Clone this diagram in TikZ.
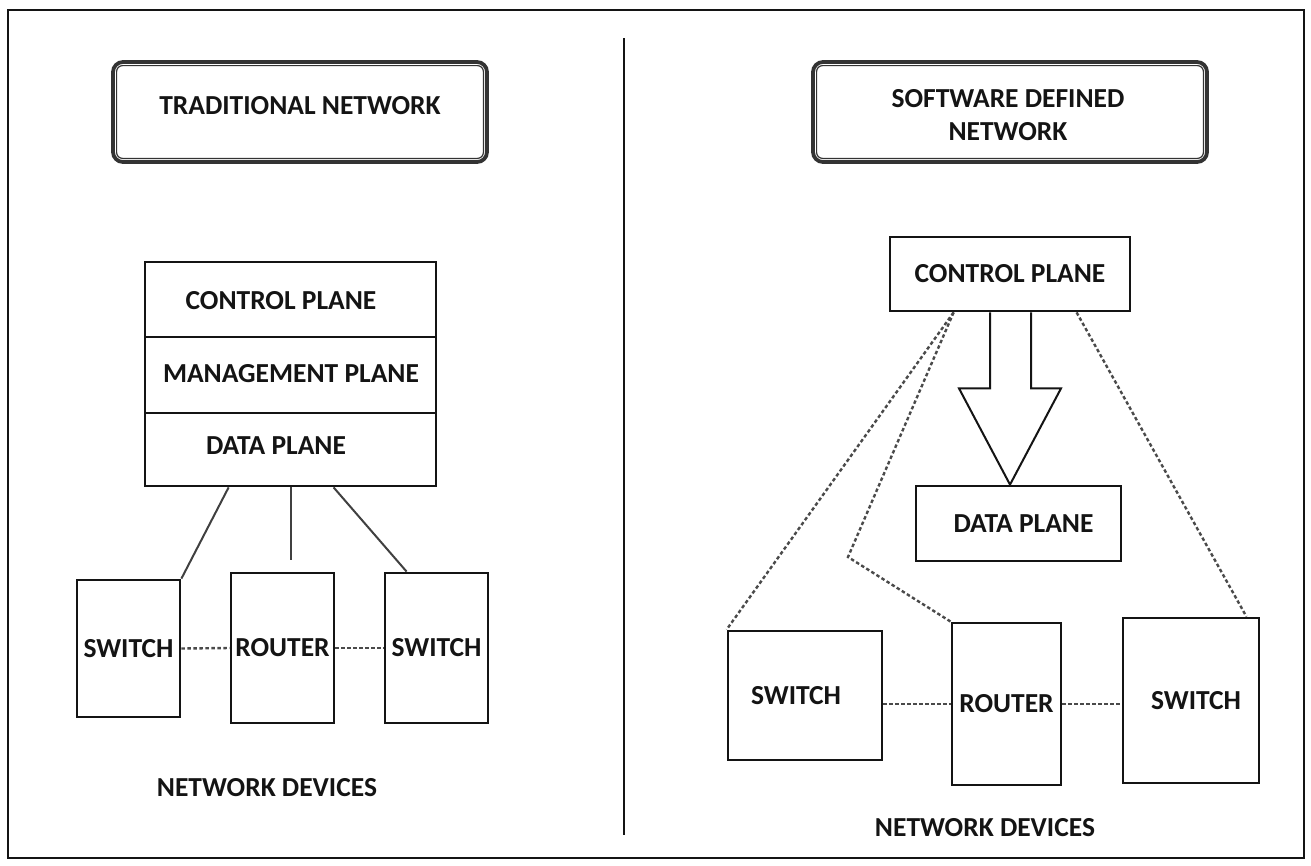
\documentclass[tikz,border=0pt]{standalone}
\usepackage{fontspec}
\setmainfont{Carlito}
\usetikzlibrary{calc}

\definecolor{ink}{HTML}{141414}
\definecolor{wire}{HTML}{404040}
\definecolor{dots}{HTML}{4A4A4A}
\definecolor{frame}{HTML}{333333}

\tikzset{
  lbl/.style={font=\fontsize{27.5}{33}\selectfont\bfseries, text=ink},
  box/.style={draw=ink, line width=2.8pt, fill=white, inner sep=0pt,
              lbl, align=center},
  titlebox/.style={draw=frame, line width=3.8pt, rounded corners=10pt,
              fill=white, inner sep=0pt, lbl, align=center},
  link/.style={draw=wire, line width=2pt},
  dotlink/.style={draw=dots, line width=2.4pt, dash pattern=on 3.5pt off 2.5pt},
  bigarrow/.style={draw=ink, line width=2pt, fill=white, line join=miter},
}

\begin{document}
\begin{tikzpicture}[x=1pt, y=-1pt]
  \useasboundingbox (0,0) rectangle (1311,865);

  % outer frame and middle divider
  \draw[ink, line width=2.8pt] (8,10) rectangle (1304,858);
  \draw[ink, line width=2.6pt] (624,38) -- (624,835);

  % ---------------- traditional network ----------------
  \node[titlebox, minimum width=374pt, minimum height=100pt] (t1) at (300,112) {};
  \draw[frame, line width=1.2pt, rounded corners=6pt]
    ($(t1.north west)+(5.5,5.5)$) rectangle ($(t1.south east)+(-5.5,-5.5)$);
  \node[lbl] (t1txt) at (300,106) {TRADITIONAL NETWORK};

  \node[box, minimum width=291pt, minimum height=75pt] (lcp) at (290.5,299.5) {};
  \node[box, minimum width=291pt, minimum height=76pt] (lmp) at (290.5,375) {};
  \node[box, minimum width=291pt, minimum height=73pt] (ldp) at (290.5,449.5) {};
  \node[lbl] (lcptxt) at (281,301) {CONTROL PLANE};
  \node[lbl] (lmptxt) at (291,374) {MANAGEMENT PLANE};
  \node[lbl] (ldptxt) at (276,446) {DATA PLANE};

  \node[box, minimum width=103pt, minimum height=137pt] (lsw1) at (128.5,648.5) {SWITCH};
  \node[box, minimum width=103pt, minimum height=150pt] (lrt)  at (282.5,648) {ROUTER};
  \node[box, minimum width=103pt, minimum height=150pt] (lsw2) at (436.5,648) {SWITCH};

  \coordinate (lstub) at (291,560);
  \draw[link] ($(ldp.south west)+(85,0)$) -- (lsw1.north east);
  \draw[link] (ldp.south -| lstub) -- (lstub);
  \draw[link] ($(ldp.south west)+(190,0)$) -- ($(lsw2.north west)+(23,0)$);

  \draw[dotlink] (lsw1.east) -- (lrt.west);
  \draw[dotlink] (lrt.east) -- (lsw2.west);

  \node[lbl] (ldev) at (267,788) {NETWORK DEVICES};

  % ---------------- software defined network ----------------
  \node[titlebox, minimum width=394pt, minimum height=100pt] (t2) at (1010,112) {};
  \draw[frame, line width=1.2pt, rounded corners=6pt]
    ($(t2.north west)+(5.5,5.5)$) rectangle ($(t2.south east)+(-5.5,-5.5)$);
  \node[lbl, align=center] (t2txt) at (1008,115) {SOFTWARE DEFINED\\NETWORK};

  \node[box, minimum width=240pt, minimum height=74pt] (rcp) at (1010,274) {CONTROL PLANE};
  \node[box, minimum width=205pt, minimum height=75pt] (rdp) at (1018.5,523.5) {\hspace*{10pt}DATA PLANE};

  % hollow block arrow from control plane down to data plane
  \draw[bigarrow]
    ($(rcp.south)+(-20,0)$) -- ($(rcp.south)+(-20,76)$) -- ($(rcp.south)+(-51,76)$)
    -- (rcp.south |- rdp.north) -- ($(rcp.south)+(51,76)$) -- ($(rcp.south)+(21,76)$)
    -- ($(rcp.south)+(21,0)$);

  \node[box, minimum width=154pt, minimum height=129pt] (rsw1) at (805,695.5) {SWITCH\hspace*{18pt}};
  \node[box, minimum width=109pt, minimum height=162pt] (rrt)  at (1006.5,704) {ROUTER};
  \node[box, minimum width=136pt, minimum height=165pt] (rsw2) at (1191,700.5) {\hspace*{10pt}SWITCH};

  \coordinate (rsplit) at ($(rcp.south west)+(65,0)$);
  \coordinate (rbend) at (848,557);
  \draw[dotlink] (rsplit) -- (rsw1.north west);
  \draw[dotlink] (rsplit) -- (rbend) -- (rrt.north west);
  \draw[dotlink] ($(rcp.south west)+(188,0)$) -- ($(rsw2.north east)+(-14,0)$);

  \draw[dotlink] (rrt.west -| rsw1.east) -- (rrt.west);
  \draw[dotlink] (rrt.east) -- (rrt.east -| rsw2.west);

  \node[lbl] (rdev) at (985,828) {NETWORK DEVICES};
\end{tikzpicture}
\end{document}
